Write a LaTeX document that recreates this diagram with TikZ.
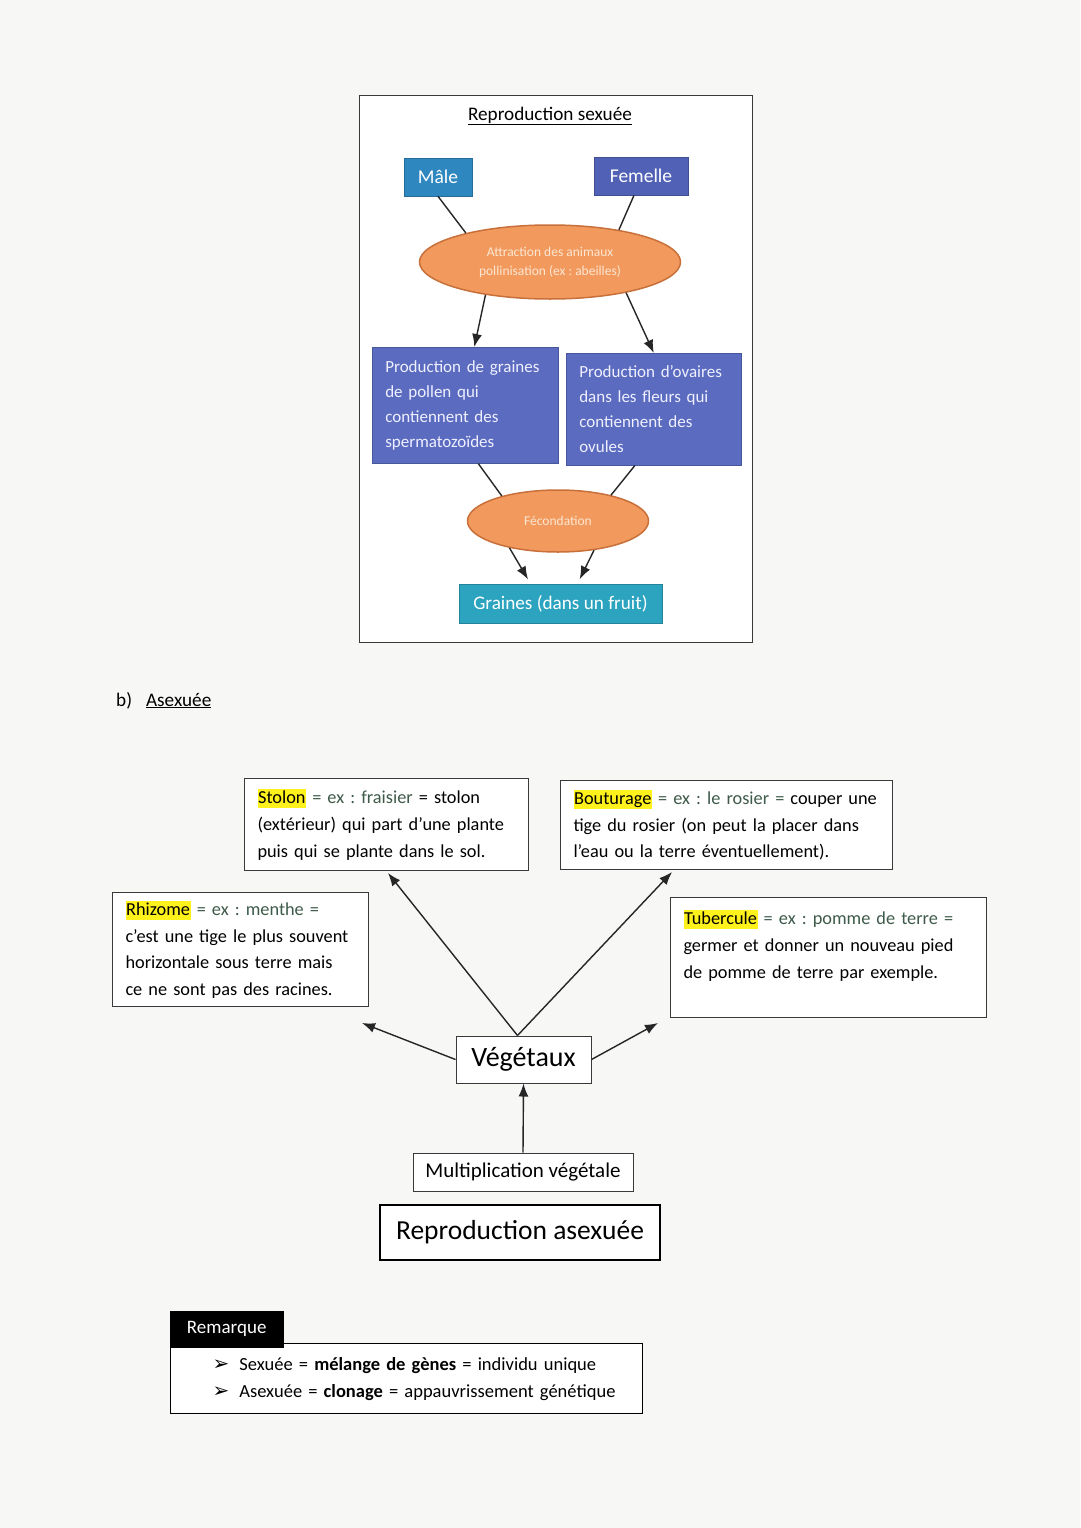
\documentclass[tikz,border=0pt]{standalone}
\usepackage{fontspec}
\setmainfont{Carlito}
\newfontfamily\dejavu{DejaVu Sans}
\usetikzlibrary{shapes.geometric,arrows.meta,calc}
\frenchspacing
\definecolor{paper}{HTML}{F7F7F5}
\definecolor{male}{HTML}{2F87BF}
\definecolor{femelle}{HTML}{5161B6}
\definecolor{bluef}{HTML}{5A6BC0}
\definecolor{graines}{HTML}{2CA4BF}
\definecolor{orangef}{HTML}{F29A5E}
\definecolor{oranged}{HTML}{C8703A}
\definecolor{ovaltext}{HTML}{FBE6D2}
\definecolor{boxd}{HTML}{3A3A3A}
\definecolor{hly}{HTML}{FFF21C}
\definecolor{exg}{HTML}{3E5A4A}
\newcommand\hlt[1]{{\setlength\fboxsep{0.6pt}\colorbox{hly}{\rule[-0.22em]{0pt}{1.0em}#1}}}
\newcommand\bul{\hspace*{22pt}{\dejavu\bfseries\fontsize{20}{27}\selectfont ➢}\hspace{10pt}}
\tikzset{
 line/.style={line width=1.4pt, draw=black!85},
 arr/.style={line, -{Latex[length=13pt,width=10pt]}},
 fillbox/.style={fill=#1, draw=#1!80!black, line width=0.6pt, text=white, font=\fontsize{19.5}{22}\selectfont, inner sep=0pt},
 oval/.style={ellipse, fill=orangef, draw=oranged, line width=1.5pt, text=ovaltext, font=\fontsize{13.5}{19}\selectfont, align=center, inner sep=0pt},
 bluebox/.style={fill=bluef, draw=bluef!80!black, line width=0.6pt, text=white!94!blue, font=\fontsize{17}{25}\selectfont, align=left, inner xsep=13pt, inner ysep=0pt, anchor=north west},
 txtbox/.style={draw=boxd, line width=1pt, fill=white, font=\fontsize{18.3}{26.6}\selectfont, align=left, anchor=north west, inner ysep=0pt, inner xsep=13pt},
 plainbox/.style={draw=boxd, line width=1pt, fill=white, inner sep=0pt},
}
\begin{document}
\begin{tikzpicture}[x=1pt,y=-1pt]
\fill[paper] (0,0) rectangle (1080,1528);
\useasboundingbox (0,0) rectangle (1080,1528);

% ---------- Reproduction sexuee ----------
\node[draw=boxd, line width=1.2pt, fill=white, minimum width=393pt, minimum height=547pt, anchor=north west, inner sep=0pt] (frame) at (359,95) {};
\node[font=\fontsize{19.2}{22}\selectfont] (title) at (550,116) {\underline{Reproduction sexuée}};
\node[fillbox=male, minimum width=68pt, minimum height=38pt] (male) at (438,177) {Mâle};
\node[fillbox=femelle, minimum width=94pt, minimum height=38pt] (femelle) at (641,176) {Femelle};
\node[oval, minimum width=261pt, minimum height=74pt] (attr) at (550,262) {Attraction des animaux\\pollinisation (ex : abeilles)};
\node[bluebox, minimum width=186pt, minimum height=116pt, text width=160pt] (pollen) at (372,347) {Production de graines\\de pollen qui\\contiennent des\\spermatozoïdes};
\node[bluebox, minimum width=175pt, minimum height=112pt, text width=149pt] (ovaires) at (566,353) {Production d’ovaires\\dans les fleurs qui\\contiennent des\\ovules};
\node[oval, minimum width=181pt, minimum height=62pt] (fec) at (558,521) {Fécondation};
\node[fillbox=graines, minimum width=203pt, minimum height=39pt, font=\fontsize{19.2}{22}\selectfont] (graines) at (560.5,603.5) {Graines (dans un fruit)};

\draw[line] (male.south) -- (attr.161);
\draw[line] ($(femelle.south)+(-7,0)$) -- (attr.25);
\draw[arr] (attr.207) -- ($(pollen.north)+(9,0)$);
\draw[arr] (attr.-22) -- (ovaires.north);
\draw[line] ($(pollen.south)+(13,0)$) -- (fec.156);
\draw[line] ($(ovaires.south)+(-19,0)$) -- (fec.26);
\draw[arr, shorten >=5pt] (fec.209) -- ($(graines.north)+(-30,0)$);
\draw[arr, shorten >=5pt] (fec.-39) -- ($(graines.north)+(17,0)$);

% ---------- Asexuee ----------
\node[font=\fontsize{19.2}{22}\selectfont, anchor=base west, inner sep=0pt] (bsec) at (116,706) {b)\hspace{14pt}\underline{Asexuée}};

\node[txtbox, minimum width=284pt, minimum height=92pt, text width=258pt] (stolon) at (244,778)
 {\hlt{Stolon} {\color{exg}= ex : fraisier} = stolon\\(extérieur) qui part d’une plante\\puis qui se plante dans le sol.};
\node[txtbox, minimum width=332pt, minimum height=89pt, text width=306pt] (bouturage) at (560,780)
 {\hlt{Bouturage} {\color{exg}= ex : le rosier =} couper une\\tige du rosier (on peut la placer dans\\l’eau ou la terre éventuellement).};
\node[txtbox, minimum width=256pt, minimum height=114pt, text width=230pt] (rhizome) at (112,892)
 {\hlt{Rhizome} {\color{exg}= ex : menthe =}\\c’est une tige le plus souvent\\horizontale sous terre mais\\ce ne sont pas des racines.};
\node[txtbox, minimum width=316pt, minimum height=120pt, text width=290pt, font=\fontsize{18.3}{27}\selectfont] (tubercule) at (670,897)
 {\hlt{Tubercule} {\color{exg}= ex : pomme de terre =}\\germer et donner un nouveau pied\\de pomme de terre par exemple.\\\mbox{}};

\node[plainbox, minimum width=135pt, minimum height=47pt, font=\fontsize{28}{30}\selectfont] (vegetaux) at (523.5,1059.5) {Végétaux};
\node[plainbox, minimum width=220pt, minimum height=38pt, font=\fontsize{21}{23}\selectfont] (multi) at (523,1172) {Multiplication végétale};
\node[plainbox, draw=black, line width=2.2pt, minimum width=280pt, minimum height=55pt, font=\fontsize{27.5}{30}\selectfont] (repro) at (520,1232.5) {Reproduction asexuée};

\coordinate (vtop) at ($(vegetaux.north)+(-6,0)$);
\coordinate (rhizend) at (362,1023);
\coordinate (tubend) at (658,1023);
\draw[arr] (vtop) -- ($(stolon.south west)+(144,2)$);
\draw[arr] (vtop) -- ($(bouturage.south west)+(112,2)$);
\draw[arr] (vegetaux.west) -- (rhizend);
\draw[arr] (vegetaux.east) -- (tubend);
\draw[arr] (multi.north) -- (vegetaux.south);

% ---------- Remarque ----------
\node[plainbox, draw=black, line width=1.2pt, minimum width=472pt, minimum height=70pt, anchor=north west, align=left, inner xsep=20pt, text width=432pt, font=\fontsize{18.5}{27}\selectfont] (rembody) at (170,1343)
 {\bul Sexuée = \textbf{mélange de gènes} = individu unique\\\bul Asexuée = \textbf{clonage} = appauvrissement génétique};
\node[fill=black, draw=black, text=white, minimum width=113pt, minimum height=36pt, anchor=north west, inner sep=0pt, font=\fontsize{19}{22}\selectfont] (remtab) at (170,1311) {Remarque};
\end{tikzpicture}
\end{document}
